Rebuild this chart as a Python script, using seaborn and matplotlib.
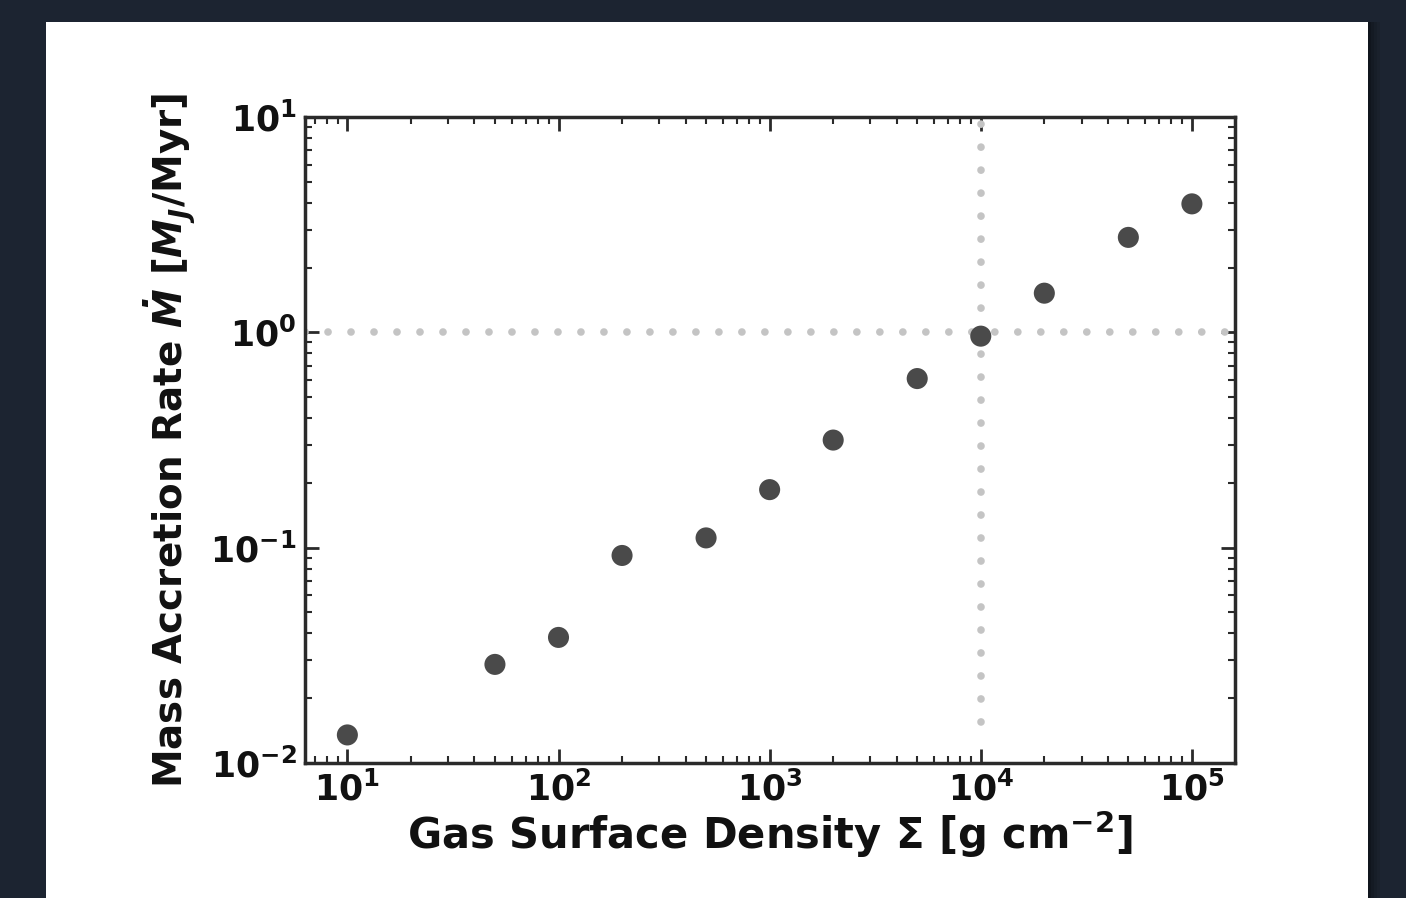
import matplotlib
matplotlib.use("Agg")
import matplotlib.pyplot as plt
import seaborn as sns
import pandas as pd
from matplotlib.patches import Rectangle
from matplotlib.ticker import LogLocator

surface_density = [10, 50, 100, 200, 500, 1000, 2000, 5000, 10000, 20000, 50000, 100000]
accretion_rate = [0.0135, 0.0287, 0.0383, 0.092, 0.111, 0.186, 0.316, 0.61, 0.96, 1.52, 2.76, 3.95]

sns.set_theme(style="ticks")
plt.rcParams['font.family'] = ['DejaVu Sans']
plt.rcParams['font.weight'] = 'bold'
plt.rcParams['axes.labelweight'] = 'bold'
plt.rcParams['mathtext.default'] = 'bf'

df = pd.DataFrame({"sigma": surface_density, "mdot": accretion_rate})

W, H = 1406, 898
fig = plt.figure(figsize=(W / 100, H / 100), dpi=100, facecolor='#1c2431')
# subtle shadow on the right of the white panel
for i, c in enumerate(['#10151d', '#141a23', '#171e28', '#1a212c']):
    fig.patches.append(Rectangle(((1368 + 3 * i) / W, 0), 3 / W, 1 - 22 / H,
                                 transform=fig.transFigure, facecolor=c,
                                 edgecolor='none', zorder=-11))
fig.patches.append(Rectangle((46 / W, 0), (1368 - 46) / W, 1 - 22 / H,
                             transform=fig.transFigure, facecolor='white',
                             edgecolor='none', zorder=-10))
ax = fig.add_axes([305 / W, 1 - 763 / H, (1235 - 305) / W, (763 - 117) / H])
ax.set_zorder(5)

dot = (0, (0.01, 3.0))
ax.axhline(1.0, color='#c4c4c4', lw=5.5, linestyle=dot, dash_capstyle='round', zorder=1)
ax.vlines(1e4, 0.0155, 10, color='#c4c4c4', lw=5.5, linestyles=[dot], capstyle='round', zorder=1)

sns.scatterplot(data=df, x="sigma", y="mdot", ax=ax, color='#4a4a4a', s=230,
                edgecolor='none', zorder=3)

ax.set_xscale('log')
ax.set_yscale('log')
ax.set_xlim(6.3, 1.6e5)
ax.set_ylim(0.01, 10)
ax.xaxis.set_major_locator(LogLocator(base=10, numticks=10))
ax.yaxis.set_major_locator(LogLocator(base=10, numticks=10))
ax.xaxis.set_minor_locator(LogLocator(base=10, subs=range(2, 10), numticks=20))
ax.yaxis.set_minor_locator(LogLocator(base=10, subs=range(2, 10), numticks=20))

for s in ax.spines.values():
    s.set_linewidth(2.5)
    s.set_color('#2a2a2a')
ax.tick_params(which='both', direction='in', top=True, right=True, color='#2a2a2a',
               labelcolor='#111111')
ax.tick_params(which='major', length=10, width=2, labelsize=25, pad=6)
ax.tick_params(which='minor', length=5, width=1.5)
for lab in ax.get_xticklabels() + ax.get_yticklabels():
    lab.set_fontweight('bold')

ax.set_xlabel('Gas Surface Density Σ [g cm$^{-2}$]', fontsize=30, fontweight='bold',
              color='#111111', labelpad=1)
ax.set_ylabel(r'Mass Accretion Rate $\mathbfit{\dot{M}}$ [$\mathbfit{M_J}$/Myr]', fontsize=28,
              fontweight='bold', color='#111111', labelpad=9)

fig.savefig('out.png', dpi=100, facecolor=fig.get_facecolor())
